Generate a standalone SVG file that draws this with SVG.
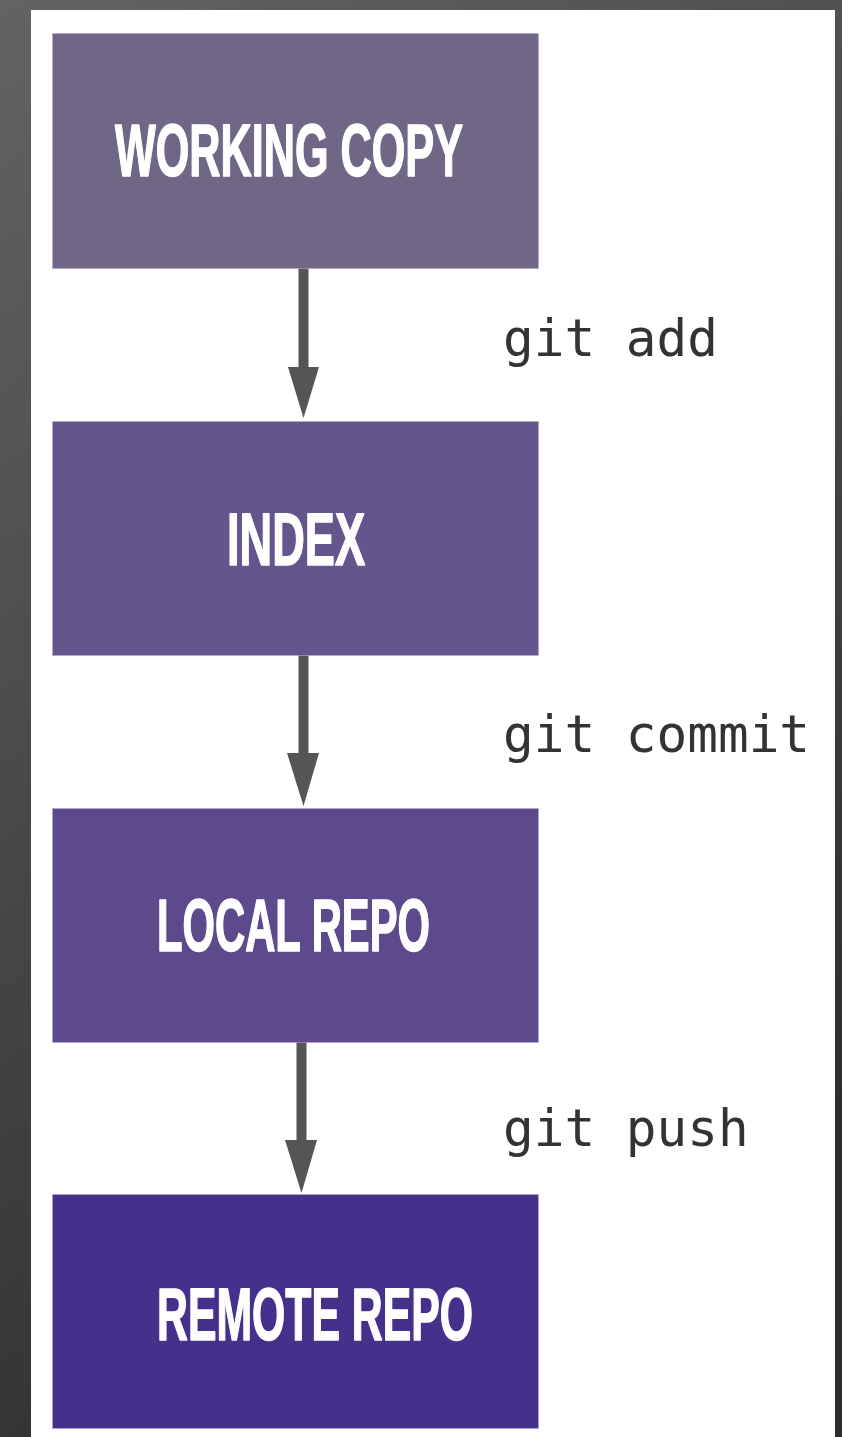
<svg xmlns="http://www.w3.org/2000/svg" width="842" height="1437" viewBox="0 0 842 1437">
  <defs>
    <linearGradient id="bg" x1="0" y1="0" x2="0.4" y2="1">
      <stop offset="0" stop-color="#636363"/>
      <stop offset="1" stop-color="#2e2e2e"/>
    </linearGradient>
    <style>
      .box { stroke: #b3a9cc; stroke-width: 1; stroke-opacity: 0.6; }
      .lbl { font-family: "Liberation Sans", Arial, sans-serif; font-weight: bold; font-size: 74px; fill: #ffffff; stroke: #ffffff; stroke-width: 1.6; stroke-linejoin: round; }
      .cmd { font-family: "DejaVu Sans Mono", "Liberation Mono", monospace; font-size: 51px; fill: #333333; }
      .arrow { stroke: #555555; stroke-width: 10; fill: none; }
      .head { fill: #555555; }
    </style>
  </defs>
  <rect x="0" y="0" width="842" height="1437" fill="url(#bg)"/>
  <rect x="31" y="10" width="804" height="1427" fill="#ffffff"/>

  <g id="connectors">
    <g id="edge-add">
      <line class="arrow" x1="303.5" y1="265" x2="303.5" y2="370"/>
      <path class="head" d="M288,367 L319,367 L303.5,418 Z"/>
    </g>
    <g id="edge-commit">
      <line class="arrow" x1="303.5" y1="653" x2="303.5" y2="756"/>
      <path class="head" d="M287,753 L319,753 L303.5,806 Z"/>
    </g>
    <g id="edge-push">
      <line class="arrow" x1="301.5" y1="1040" x2="301.5" y2="1143"/>
      <path class="head" d="M285,1140 L317,1140 L301.5,1193 Z"/>
    </g>
    <text class="cmd" x="503" y="356">git add</text>
    <text class="cmd" x="503" y="752">git commit</text>
    <text class="cmd" x="503" y="1146">git push</text>
  </g>

  <g id="node-working-copy">
    <rect class="box" x="52.5" y="33.5" width="486" height="235" fill="#706787"/>
    <text class="lbl" x="115" y="176" textLength="348" lengthAdjust="spacingAndGlyphs">WORKING COPY</text>
  </g>
  <g id="node-index">
    <rect class="box" x="52.5" y="421.5" width="486" height="234" fill="#65558d"/>
    <text class="lbl" x="227" y="565" textLength="138" lengthAdjust="spacingAndGlyphs">INDEX</text>
  </g>
  <g id="node-local-repo">
    <rect class="box" x="52.5" y="808.5" width="486" height="234" fill="#5c4a8c"/>
    <text class="lbl" x="157" y="951" textLength="273" lengthAdjust="spacingAndGlyphs">LOCAL REPO</text>
  </g>
  <g id="node-remote-repo">
    <rect class="box" x="52.5" y="1194.5" width="486" height="234" fill="#45308c"/>
    <text class="lbl" x="157" y="1340" textLength="316" lengthAdjust="spacingAndGlyphs">REMOTE REPO</text>
  </g>
</svg>
